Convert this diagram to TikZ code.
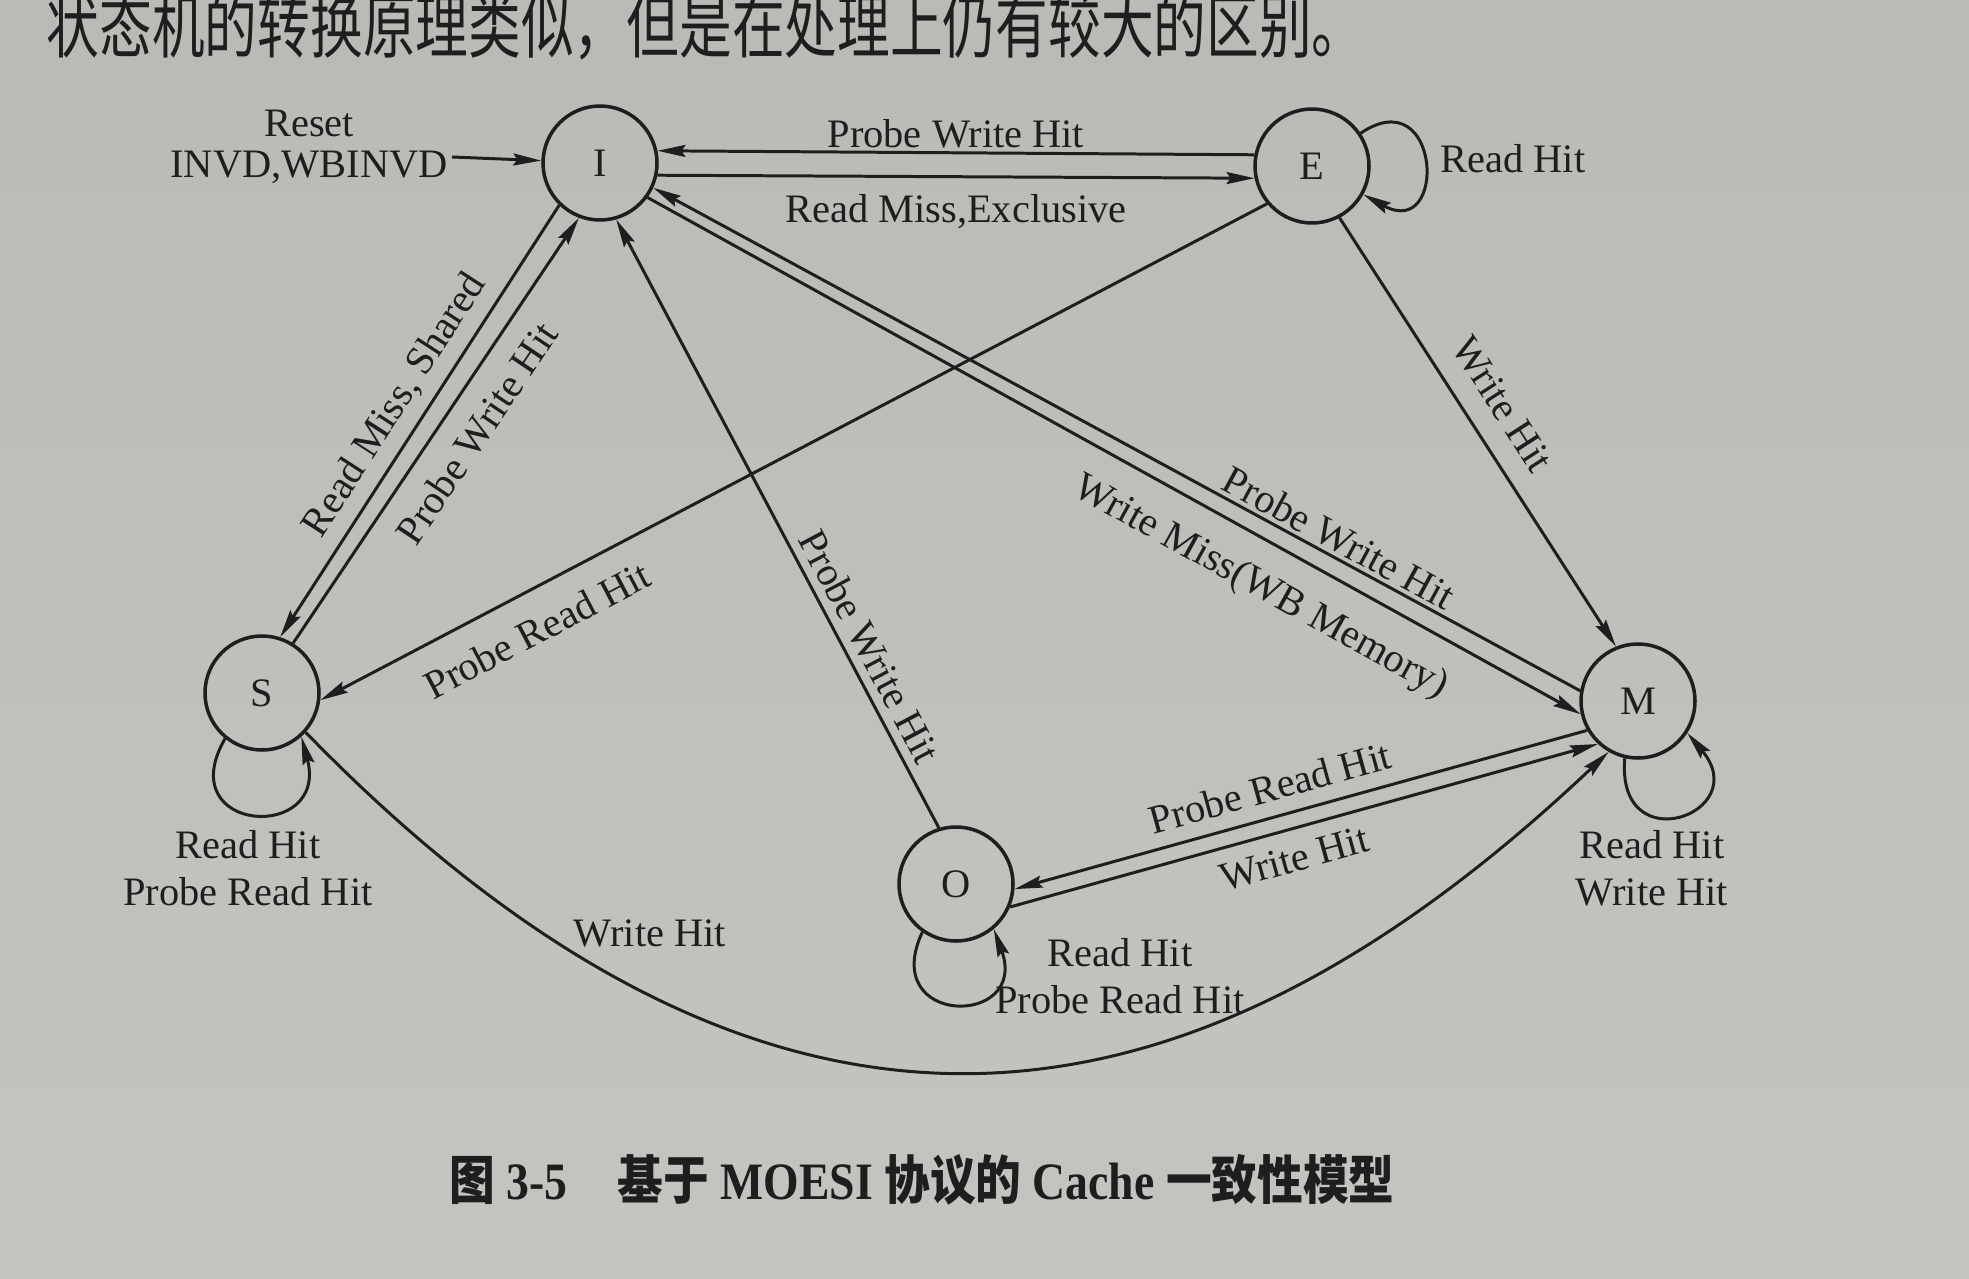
\documentclass[tikz,border=0pt]{standalone}
\usepackage{fontspec}
\setmainfont{Liberation Serif}
\newfontfamily\cjk{Noto Sans CJK SC}
\usetikzlibrary{arrows.meta}
\definecolor{ink}{RGB}{30,30,30}
\definecolor{pagetop}{RGB}{186,186,183}
\definecolor{pagemid}{RGB}{142,142,139}
\definecolor{pagebot}{RGB}{196,196,192}
\begin{document}
\begin{tikzpicture}[
        state/.style={circle,draw=ink,line width=1pt,minimum size=1.14cm,inner sep=0pt,text=ink,font=\fontsize{11.5}{13.5}\selectfont},
        lab/.style={inner sep=1pt,text=ink,font=\fontsize{11.5}{13.5}\selectfont},
        line/.style={draw=ink,line width=0.85pt},
        >={Stealth[length=2.8mm,width=1.2mm,inset=0.4mm]}]
        \useasboundingbox (0,0) rectangle (19.69,-12.79);
        \shade[top color=pagetop,middle color=pagemid,bottom color=pagebot] (0,0) rectangle (19.69,-12.79);
        \node[anchor=west,text=ink,inner sep=0pt,yscale=1.35,transform shape,font=\cjk\fontsize{15}{18}\selectfont] (txt) at (0.46,-0.26) {状态机的转换原理类似，但是在处理上仍有较大的区别。};
        \node[state] (I) at (6.00,-1.63) {I};
        \node[state] (E) at (13.12,-1.66) {E};
        \node[state] (S) at (2.62,-6.93) {S};
        \node[state] (M) at (16.38,-7.01) {M};
        \node[state] (O) at (9.56,-8.84) {O};
        \coordinate (rst) at (4.52,-1.57);
        \node[lab,align=center,font=\fontsize{11.5}{11.5}\selectfont] (rl) at (3.09,-1.47) {Reset\\INVD,WBINVD};
        \draw[line,->] (rst) -- (I);
        \draw[line,->] (E.169) -- node[lab,above]{Probe Write Hit} (I.12);
        \draw[line,->] (I.-12) -- node[lab,below=3.5pt]{Read Miss,Exclusive} (E.192);
        \draw[line,->] (I.226) -- node[lab,above=2pt,sloped]{Read Miss, Shared} (S.72);
        \draw[line,->] (S.58) -- node[lab,below=4.5pt,sloped,pos=0.54]{Probe Write Hit} (I.249);
        \draw[line,->] (E.220) -- node[lab,below=5.5pt,sloped,pos=0.79]{Probe Read Hit} (S.-7);
        \draw[line,->] (O.107) -- node[lab,above=1.3pt,sloped,pos=0.28]{Probe Write Hit} (I.-74);
        \draw[line,->] (M.170) -- node[lab,above,sloped,pos=0.27]{Probe Write Hit} (I.-25);
        \draw[line,->] (I.-36) -- node[lab,below=6pt,sloped,pos=0.68]{Write Miss(WB Memory)} (M.193);
        \draw[line,->] (E.-62) -- node[lab,above=5pt,sloped,pos=0.48]{Write Hit} (M.112);
        \draw[line,->] (M.210) -- node[lab,above=3pt,sloped,pos=0.54]{Probe Read Hit} (O.-5);
        \draw[line,->] (O.-23) -- node[lab,below=3pt,sloped,pos=0.47]{Write Hit} (M.227);
        \draw[line,->] (S.-42) .. controls (8.09,-12.50) and (12.30,-11.10) .. (M.-120);
        \node[lab] (wh) at (6.50,-9.33) {Write Hit};
        \draw[line,->] (E.34) to[out=34,in=-29,min distance=0.97cm] (E.-29);
        \draw[line,->] (S.231) to[out=240,in=-75,min distance=1.1cm] (S.-48);
        \draw[line,->] (M.-103) to[out=-95,in=-50,min distance=1.05cm] (M.-33);
        \draw[line,->] (O.235) to[out=245,in=-70,min distance=1.05cm] (O.-50);
        \node[lab] (el) at (15.13,-1.59) {Read Hit};
        \node[lab,align=center] (sl) at (2.48,-8.68) {Read Hit\\Probe Read Hit};
        \node[lab,align=center] (ml) at (16.52,-8.68) {Read Hit\\Write Hit};
        \node[lab,align=center] (ol) at (11.20,-9.76) {Read Hit\\Probe Read Hit};
        \node[text=ink,yscale=1.15,transform shape,font=\fontsize{13}{15}\selectfont\bfseries] (cap) at (9.22,-11.80) {{\cjk 图} 3-5\hspace{1.1em}{\cjk 基于} MOESI {\cjk 协议的} Cache {\cjk 一致性模型}};
    \end{tikzpicture}
\end{document}
